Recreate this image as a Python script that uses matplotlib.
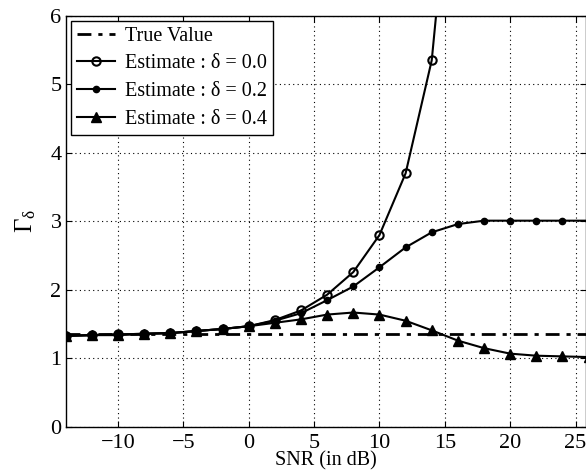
import matplotlib
matplotlib.use('Agg')
import matplotlib.pyplot as plt
import numpy as np

plt.rcParams['font.family'] = ['Liberation Serif', 'DejaVu Serif']
plt.rcParams['mathtext.fontset'] = 'stix'

# ── data ──
snr = np.arange(-14, 27, 2)
true_value = [1.35] * len(snr)
est_d00 = [1.33, 1.34, 1.35, 1.36, 1.37, 1.40, 1.43, 1.47, 1.56, 1.70, 1.93, 2.26,
           2.80, 3.70, 5.35, 9.3, 20.0, 40.0, 80.0, 150.0, 300.0]
est_d02 = [1.33, 1.34, 1.35, 1.36, 1.37, 1.40, 1.43, 1.47, 1.55, 1.66, 1.85, 2.05,
           2.33, 2.62, 2.84, 2.96, 3.01, 3.01, 3.01, 3.01, 3.01]
est_d04 = [1.33, 1.34, 1.34, 1.36, 1.37, 1.40, 1.43, 1.47, 1.52, 1.57, 1.64, 1.67,
           1.64, 1.55, 1.41, 1.26, 1.15, 1.07, 1.04, 1.03, 1.02]

fig = plt.figure(figsize=(5.86, 4.74), dpi=100)
ax = fig.add_axes([0.1121, 0.0992, 0.8879, 0.8676])

ax.plot(snr, true_value, color='k', lw=2.0, ls=(0, (5, 2.5, 1.5, 2.5)), label='True Value')
ax.plot(snr, est_d00, color='k', lw=1.5, marker='o', ms=6, mfc='none', mew=1.5,
        label='Estimate : δ = 0.0')
ax.plot(snr, est_d02, color='k', lw=1.5, marker='o', ms=4.5,
        label='Estimate : δ = 0.2')
ax.plot(snr, est_d04, color='k', lw=1.5, marker='^', ms=7.5,
        label='Estimate : δ = 0.4')

ax.set_xlim(-14, 25.8)
ax.set_ylim(0, 6)
ax.set_xticks([-10, -5, 0, 5, 10, 15, 20, 25])
ax.set_yticks([0, 1, 2, 3, 4, 5, 6])
ax.set_xticklabels(['\u221210', '\u22125', '0', '5', '10', '15', '20', '25'])
ax.tick_params(direction='in', labelsize=16, top=True, right=True, length=4)
ax.tick_params(axis='x', pad=5)
ax.tick_params(axis='y', pad=3)
ax.grid(True, color='k', ls=(0, (1, 3)), lw=0.8)
for s in ax.spines.values():
    s.set_linewidth(1.0)

ax.set_xlabel('SNR (in dB)', fontsize=14.5, labelpad=-1)
ax.set_ylabel(r'$\mathregular{Γ_δ}$', fontsize=18, labelpad=9)

leg = ax.legend(loc='upper left', fontsize=14.5, frameon=True, fancybox=False,
                edgecolor='k', framealpha=1, handlelength=1.9, borderpad=0.3,
                labelspacing=0.42, handletextpad=0.5, borderaxespad=0.25)
leg.get_frame().set_linewidth(1.0)

fig.savefig('out.png', dpi=100, facecolor='white')
